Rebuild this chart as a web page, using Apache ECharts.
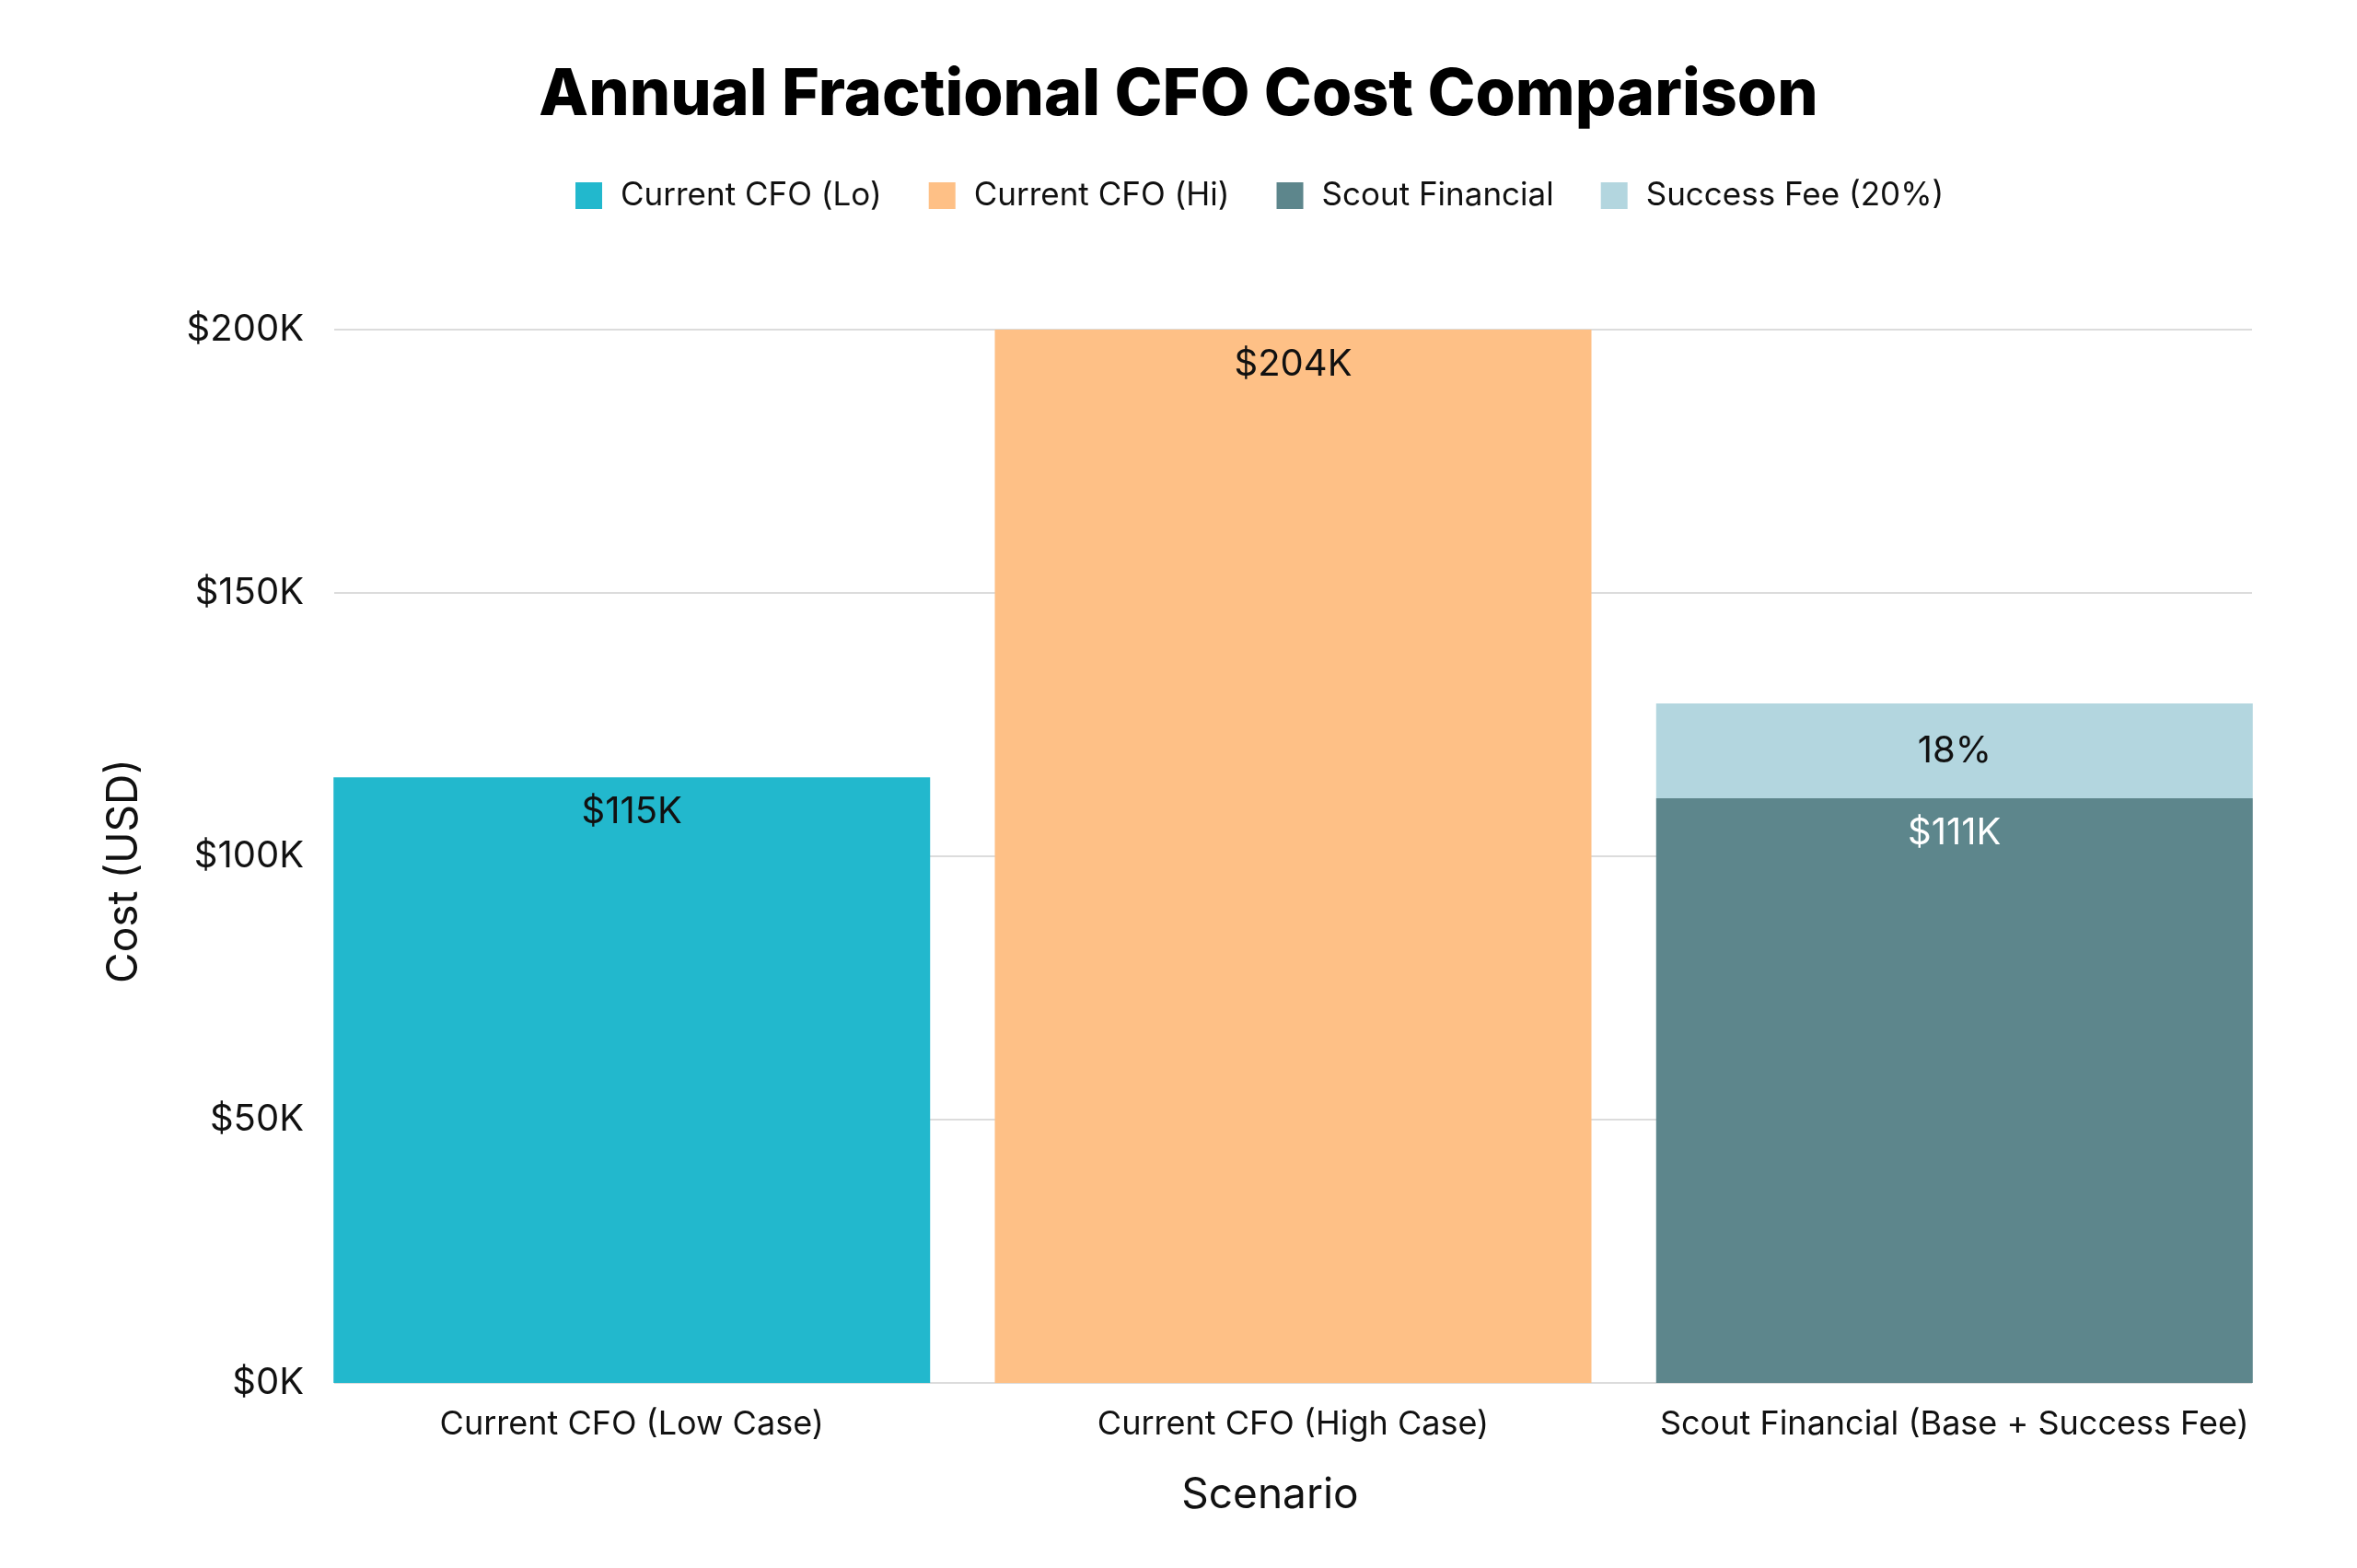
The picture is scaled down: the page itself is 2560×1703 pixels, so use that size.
<!DOCTYPE html>
<html>
<head>
<meta charset="utf-8">
<script src="https://cdn.jsdelivr.net/npm/echarts@6/dist/echarts.min.js"></script>
<style>
html,body{margin:0;padding:0;background:#fff;}
#chart{width:2560px;height:1703px;}
</style>
</head>
<body>
<div id="chart"></div>
<script>
// ---- data ----
const categories = ['Current CFO (Low Case)', 'Current CFO (High Case)', 'Scout Financial (Base + Success Fee)'];
const seriesNames = ['Current CFO (Lo)', 'Current CFO (Hi)', 'Scout Financial', 'Success Fee (20%)'];
const currentLo = [115000, 0, 0];
const currentHi = [0, 204000, 0];
const scoutBase = [0, 0, 111000];
const successFee = [0, 0, 18000];
const yTicks = [0, 50000, 100000, 150000, 200000];

const colors = ['#22b8cd', '#fec086', '#5d868c', '#b3d6df'];
const FONT = 'Inter, "Open Sans", sans-serif';

const chart = echarts.init(document.getElementById('chart'));

// value first so that stacking happens on the y dimension
function pairs(arr){ return arr.map((v,i)=>[v, i]); }
function money(v){ return '$' + Math.round(v/1000) + 'K'; }

function mkSeries(name, arr, color, labelColor, pos, fmt){
  return {
    name: name,
    type: 'bar',
    stack: 'all',
    barWidth: 648,
    encode: {x: 1, y: 0},
    data: pairs(arr),
    itemStyle: {color: color},
    label: {
      show: true,
      position: pos,
      distance: 18,
      color: labelColor,
      fontFamily: FONT,
      fontSize: 40,
      formatter: p => p.value[0] ? fmt(p.value[0]) : ''
    },
    emphasis: {disabled: true}
  };
}

chart.setOption({
  backgroundColor: '#fff',
  animation: false,
  color: colors,
  title: {
    text: 'Annual Fractional CFO Cost Comparison',
    left: 'center',
    top: 64,
    textStyle: {fontFamily: 'Inter, sans-serif', fontWeight: 800, fontSize: 70, color: '#000'}
  },
  legend: {
    left: 620,
    top: 190,
    icon: 'rect',
    itemWidth: 29,
    itemHeight: 29,
    itemGap: 51,
    data: seriesNames,
    textStyle: {fontFamily: FONT, fontSize: 35, color: '#111', padding: [0,0,0,15]}
  },
  grid: {left: 363, right: 114, top: 358, bottom: 201, containLabel: false},
  xAxis: {
    type: 'value',
    min: -0.45,
    max: 2.45,
    name: 'Scenario',
    nameLocation: 'middle',
    nameGap: 99,
    nameTextStyle: {fontFamily: FONT, fontSize: 46, color: '#111', padding: [0, 50, 0, 0]},
    axisLine: {show: false},
    axisTick: {show: false},
    splitLine: {show: false},
    axisLabel: {
      customValues: [0, 1, 2],
      formatter: v => categories[Math.round(v)] || '',
      fontFamily: FONT, fontSize: 36, color: '#111', margin: 27
    }
  },
  yAxis: {
    type: 'value',
    min: 0,
    max: 200000,
    interval: 50000,
    name: 'Cost (USD)',
    nameLocation: 'middle',
    nameGap: 205,
    nameTextStyle: {fontFamily: FONT, fontSize: 46, color: '#111', padding: [0, 32, 0, 0]},
    axisLine: {show: false},
    axisTick: {show: false},
    splitLine: {lineStyle: {color: '#dcdcdc', width: 2}},
    axisLabel: {
      formatter: v => money(v),
      fontFamily: FONT, fontSize: 40, color: '#111', margin: 33
    }
  },
  series: [
    mkSeries(seriesNames[0], currentLo, colors[0], '#111', 'insideTop', money),
    mkSeries(seriesNames[1], currentHi, colors[1], '#111', 'insideTop', money),
    mkSeries(seriesNames[2], scoutBase, colors[2], '#fff', 'insideTop', money),
    mkSeries(seriesNames[3], successFee, colors[3], '#111', 'inside', v => Math.round(v/1000) + '%')
  ]
});
</script>
</body>
</html>
